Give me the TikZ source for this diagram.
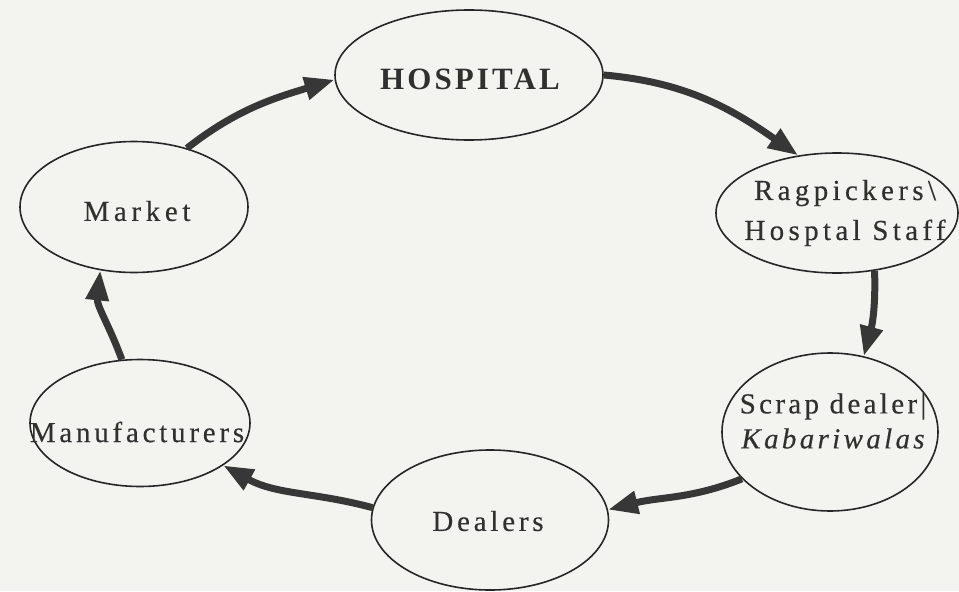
\documentclass[tikz,border=0pt]{standalone}
\usepackage{fontspec}
\setmainfont{Liberation Serif}
\usepackage{xcolor}
\usepackage{tikz}
\usetikzlibrary{arrows.meta,shapes.geometric}
\definecolor{inkgray}{RGB}{55,55,55}
\definecolor{textgray}{RGB}{48,48,48}
\definecolor{paper}{RGB}{243,243,240}

\begin{document}
\begin{tikzpicture}[
  x=0.5pt, y=0.5pt,
  oval/.style={
    ellipse,
    draw=black!85,
    line width=0.8pt,
    inner sep=0pt
  },
  lbl/.style={
    text=textgray,
    font=\fontsize{14.5}{20}\selectfont\addfontfeatures{LetterSpace=#1,FakeBold=0.3},
    align=center,
    inner sep=0pt
  },
  lbl/.default=14,
  flow/.style={-{Triangle[length=15pt,width=11pt]},line width=3.5pt,draw=inkgray}
]
\fill[paper] (0,0) rectangle (959,591);
\useasboundingbox (0,0) rectangle (959,591);

% the six stations of the cycle
\node[oval,minimum width=134pt,minimum height=65pt] (hosp) at (469,516) {};
\node[oval,minimum width=121pt,minimum height=60pt] (rag) at (837,378) {};
\node[oval,minimum width=108pt,minimum height=79pt] (scrap) at (830,159) {};
\node[oval,minimum width=118.5pt,minimum height=70pt] (dealers) at (490,71) {};
\node[oval,minimum width=110pt,minimum height=63.5pt] (manuf) at (140,168) {};
\node[oval,minimum width=114pt,minimum height=65.5pt] (market) at (134,384) {};

% their texts
\node[lbl,font=\fontsize{15.5}{20}\selectfont\bfseries\addfontfeatures{LetterSpace=10}] (hosp-t) at (470,512) {HOSPITAL};
\node[lbl=15] (rag-t) at (845,378) {Ragpickers\textbackslash\\Hosptal Staff};
\node[lbl=11.5,font=\fontsize{14.5}{17.5}\selectfont\addfontfeatures{LetterSpace=11.5,FakeBold=0.3}] (scrap-t) at (833,170) {Scrap dealer|\\\itshape Kabariwalas};
\node[lbl=13] (dealers-t) at (488,70) {Dealers};
\node[lbl=13] (manuf-t) at (137,159) {Manufacturers};
\node[lbl=16] (market-t) at (137,380) {Market};

\draw[flow] (hosp.0) to[out=-5,in=145] (rag.124);
\draw[flow] (rag.-57) to[out=-88,in=75] (scrap.66);
\draw[flow] (scrap.-152) to[out=-158,in=14] (dealers.5);
\draw[flow] (dealers.174) to[out=165,in=-29] (manuf.-27);
\draw[flow] (manuf.106) to[out=110,in=-96] (market.-118);
\draw[flow] (market.48) to[out=38,in=-163] (hosp.182);
\end{tikzpicture}
\end{document}
